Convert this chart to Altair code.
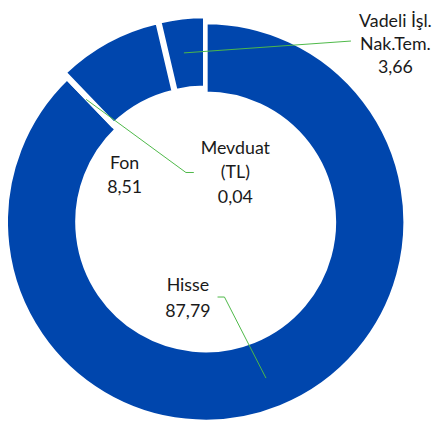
import altair as alt
import pandas as pd

# ---- data ----
categories = ["Hisse", "Mevduat (TL)", "Fon", "Vadeli İşl. Nak.Tem."]
values = [87.79, 0.04, 8.51, 3.66]
value_labels = ["87,79", "0,04", "8,51", "3,66"]
name_lines = ["Hisse", "Mevduat\n(TL)", "Fon", "Vadeli İşl.\nNak.Tem."]

# ---- layout / style ----
W, H = 430, 413
CX, CY = 200, 214
R_OUT, R_IN = 202, 130
BLUE = "#0046AD"
GREEN = "#4DB848"
explode = [0, 6, 6, 6]
label_x = [182, 230, 118, 392]
label_y = [284, 145, 160, 17]
label_lh = [26, 25, 25, 23]
seg_x = [212, 219, 188, 180, 178]
seg_y = [290, 290, 164, 164, 43]
seg_x2 = [219, 261, 180, 79, 347]
seg_y2 = [290, 372, 164, 90, 31]

slices = pd.DataFrame({
    "category": categories,
    "value": values,
    "order": list(range(len(values))),
    "explode": explode,
})

arcs = (
    alt.Chart(slices)
    .transform_window(cum="sum(value)", sort=[alt.SortField("order")], frame=[None, 0])
    .transform_joinaggregate(total="sum(value)")
    .transform_calculate(
        t1="2*PI*datum.cum/datum.total",
        t0="2*PI*(datum.cum-datum.value)/datum.total",
    )
    .transform_calculate(mid="(datum.t0+datum.t1)/2")
    .transform_calculate(
        cx=f"{CX}+datum.explode*sin(datum.mid)",
        cy=f"{CY}-datum.explode*cos(datum.mid)",
    )
    .mark_arc(outerRadius=R_OUT, innerRadius=R_IN, stroke="white", strokeWidth=4, color=BLUE)
    .encode(
        theta=alt.Theta("t0:Q", scale=None),
        theta2="t1:Q",
        x=alt.X("cx:Q", scale=None),
        y=alt.Y("cy:Q", scale=None),
    )
)

segs = pd.DataFrame({"x": seg_x, "y": seg_y, "x2": seg_x2, "y2": seg_y2})
leaders = (
    alt.Chart(segs)
    .mark_rule(color=GREEN, strokeWidth=1)
    .encode(
        x=alt.X("x:Q", scale=None),
        y=alt.Y("y:Q", scale=None),
        x2="x2:Q",
        y2="y2:Q",
    )
)

label_layers = []
for n, v, lx, ly, lh in zip(name_lines, value_labels, label_x, label_y, label_lh):
    df = pd.DataFrame({"text": [n + "\n" + v], "x": [lx], "y": [ly]})
    label_layers.append(
        alt.Chart(df)
        .mark_text(
            lineBreak="\n", align="center", baseline="alphabetic",
            font="Lato", fontSize=18, lineHeight=lh, color="#1a1a1a",
        )
        .encode(
            x=alt.X("x:Q", scale=None),
            y=alt.Y("y:Q", scale=None),
            text="text:N",
        )
    )

chart = (
    alt.layer(arcs, leaders, *label_layers)
    .properties(width=W, height=H, padding=0, autosize=alt.AutoSizeParams(type="none"))
    .configure_view(stroke=None)
)

chart.save("out.html", embed_options={"renderer": "svg", "actions": False})
